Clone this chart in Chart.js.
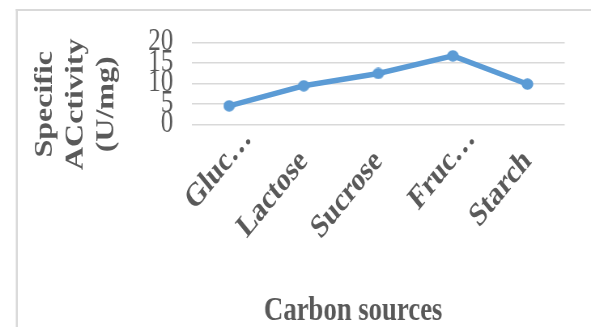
<!DOCTYPE html>
<html>
<head>
<meta charset="utf-8">
<script src="https://cdn.jsdelivr.net/npm/chart.js@4/dist/chart.umd.min.js"></script>
<style>
  html, body { margin: 0; padding: 0; background: #ffffff; overflow: hidden; }
  #wrap {
    width: 730px; height: 327px;
    transform: scaleX(0.8096); transform-origin: 0 0;
  }
  canvas { display: block; }
</style>
</head>
<body>
<div id="wrap"><canvas id="chart" width="730" height="327"></canvas></div>
<script>
// Carbon sources and the specific activity measured on each
const categories = ['Glucose', 'Lactose', 'Sucrose', 'Fructose', 'Starch'];
const tickLabels = ['Gluc…', 'Lactose', 'Sucrose', 'Fruc…', 'Starch'];
const activity = [4.5, 9.4, 12.4, 16.7, 9.8];
const yMin = 0;
const yMax = 20;
const yStep = 5;
const yTitleLines = ['Specific', 'ACctivity', '(U/mg)'];
const xTitle = 'Carbon sources';

const TEXT = '#595959';
const BLUE = '#5b9bd5';
const SERIF = "'Liberation Serif', 'Times New Roman', serif";

// shortened category names run further along their slant than full ones
const isShortened = i => tickLabels[i] !== categories[i];

// round marker, pre-widened so it stays round after the page's horizontal squeeze
function makeMarker() {
  const c = document.createElement('canvas');
  c.width = 15; c.height = 12;
  const g = c.getContext('2d');
  g.fillStyle = BLUE;
  g.beginPath();
  g.ellipse(7.5, 6, 7.2, 5.8, 0, 0, Math.PI * 2);
  g.fill();
  return c;
}

// outer frame, slanted category labels and the two axis titles
const decorations = {
  id: 'decorations',
  beforeDraw(chart) {
    const ctx = chart.ctx;
    ctx.save();
    ctx.fillStyle = '#d9d9d9';
    ctx.fillRect(19.5, 9, chart.width, 2);
    ctx.fillRect(19.5, 9, 2.5, chart.height);
    ctx.restore();
  },
  afterDraw(chart) {
    const ctx = chart.ctx;
    const area = chart.chartArea;
    const xs = chart.scales.x;
    ctx.save();
    ctx.fillStyle = TEXT;

    // category labels at 45 degrees, right end hanging under each category
    ctx.font = 'bold 33px ' + SERIF;
    ctx.textAlign = 'right';
    ctx.textBaseline = 'middle';
    tickLabels.forEach((label, i) => {
      const shift = isShortened(i) ? 32 * Math.SQRT1_2 : 0;
      ctx.save();
      ctx.translate(xs.getPixelForTick(i) + shift, area.bottom + 32 - shift);
      ctx.rotate(-Math.PI / 4);
      ctx.fillText(label, 0, 0);
      ctx.restore();
    });

    // y title, three stacked lines reading upwards
    ctx.font = 'bold 32px ' + SERIF;
    ctx.textAlign = 'center';
    const cy = area.top + 62;
    yTitleLines.forEach((line, i) => {
      ctx.save();
      ctx.translate(55.5 + i * 38.3, cy);
      ctx.rotate(-Math.PI / 2);
      ctx.fillText(line, 0, 0);
      ctx.restore();
    });

    // x title
    ctx.font = 'bold 33px ' + SERIF;
    ctx.textBaseline = 'alphabetic';
    ctx.fillText(xTitle, (area.left + area.right) / 2 - 31, 320);
    ctx.restore();
  }
};

new Chart(document.getElementById('chart'), {
  type: 'line',
  data: {
    labels: categories,
    datasets: [{
      data: activity,
      borderColor: BLUE,
      backgroundColor: BLUE,
      borderWidth: 5.5,
      pointStyle: makeMarker(),
      pointRadius: 6,
      tension: 0,
      fill: false
    }]
  },
  options: {
    responsive: false,
    animation: false,
    events: [],
    layout: { padding: { top: 42.3, right: 32.5, left: 0, bottom: 0 } },
    plugins: { legend: { display: false }, tooltip: { enabled: false } },
    scales: {
      x: {
        offset: true,
        afterFit(scale) { scale.height = 327 - 124.3; },
        grid: { display: false, drawTicks: false },
        border: { display: false },
        ticks: { display: false, autoSkip: false }
      },
      y: {
        min: yMin,
        max: yMax,
        afterFit(scale) { scale.width = 237; },
        grid: { color: '#d9d9d9', lineWidth: 1.6, drawTicks: false },
        border: { display: false },
        ticks: {
          stepSize: yStep,
          autoSkip: false,
          padding: 23,
          color: TEXT,
          font: { family: SERIF, size: 31 }
        }
      }
    }
  },
  plugins: [decorations]
});
</script>
</body>
</html>
